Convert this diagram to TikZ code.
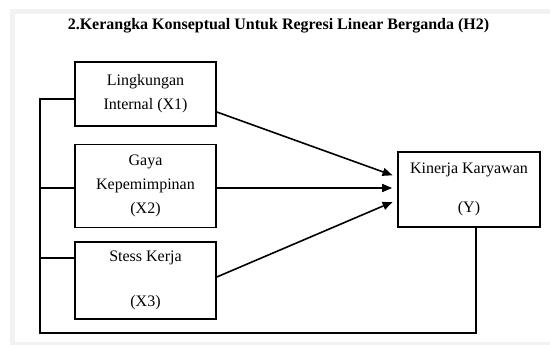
\documentclass[tikz,border=0pt]{standalone}
\usepackage{fontspec}
\setmainfont{Liberation Serif}
\usetikzlibrary{arrows.meta}
\definecolor{framegray}{RGB}{242,242,242}
\tikzset{
  varbox/.style={draw=black, line width=1.6pt, fill=white, minimum width=141pt, inner sep=0pt, align=center, font=\fontsize{16}{24}\selectfont},
  link/.style={draw=black, line width=1.6pt},
  arr/.style={link, -{Triangle[length=10pt,width=8pt]}, shorten >=5pt},
  titletext/.style={font=\fontsize{16}{20}\selectfont\bfseries}
}
\begin{document}
\begin{tikzpicture}[x=1pt,y=-1pt]
\useasboundingbox (0,0) rectangle (550,345);
\fill[white] (0,0) rectangle (550,345);
\fill[framegray] (10,9) rectangle (550,345);
\fill[white] (15,14) rectangle (550,342);
\node[titletext] (title) at (278.5,26) {2.Kerangka Konseptual Untuk Regresi Linear Berganda (H2)};
\node[varbox, minimum height=64pt] (x1) at (145.5,94) {Lingkungan\\Internal (X1)};
\node[varbox, minimum height=83pt] (x2) at (145.5,186) {Gaya\\Kepemimpinan\\(X2)};
\node[varbox, minimum height=77pt] (x3) at (145.5,280.5) {Stess Kerja\\[21pt](X3)};
\node[varbox, minimum height=75pt, minimum width=142pt] (y) at (469,189.5) {Kinerja Karyawan\\[15pt](Y)};
\coordinate (bl) at (40,333);
\draw[link] ([yshift=-5pt]x1.west) -| (bl) -| ([xshift=7pt]y.south);
\draw[link] ([yshift=-2pt]x2.west) -- ([yshift=-2pt]x2.west -| bl);
\draw[link] ([yshift=22.5pt]x3.west) -- ([yshift=22.5pt]x3.west -| bl);
\draw[arr] ([yshift=-18pt]x1.east) -- ([yshift=12.5pt]y.west);
\draw[arr] ([yshift=-2pt]x2.east) -- ([yshift=-2pt]x2.east -| y.west);
\draw[arr] ([yshift=3.5pt]x3.east) -- ([yshift=-10.5pt]y.west);
\end{tikzpicture}
\end{document}
